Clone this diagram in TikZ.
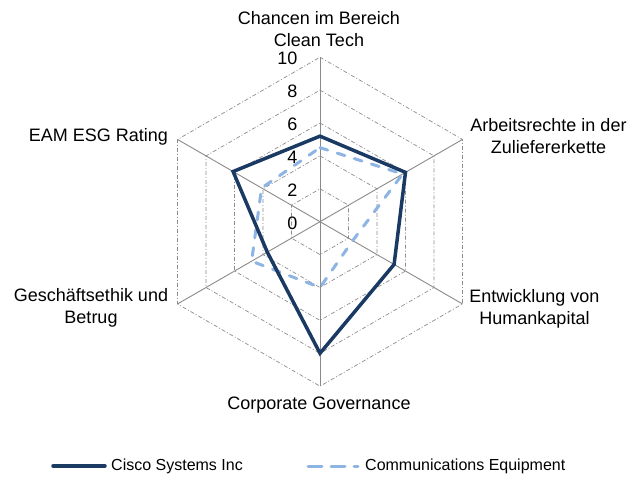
\documentclass[tikz,border=0pt]{standalone}
\usepackage{fontspec}
\setmainfont{Liberation Sans}
\definecolor{ciscoblue}{HTML}{1B3A63}
\definecolor{commblue}{HTML}{8EB4E3}
\definecolor{axisgray}{HTML}{8A8A8A}
\definecolor{gridgray}{HTML}{8C8C8C}
\begin{document}
\begin{tikzpicture}[x=1pt,y=1pt,
  axisline/.style={draw=axisgray, line width=0.9pt},
  gridline/.style={draw=gridgray, line width=0.7pt, dash pattern=on 4pt off 2pt on 1pt off 2pt},
  ciscoline/.style={draw=ciscoblue, line width=3.5pt, line join=miter},
  commline/.style={draw=commblue, line width=3pt, dash pattern=on 8pt off 10pt, line cap=round, line join=round},
  lab/.style={font=\fontsize{18}{21.7}\selectfont, align=center, inner sep=0pt},
  ticklab/.style={font=\fontsize{18}{21}\selectfont, anchor=east, inner sep=0pt},
  leg/.style={font=\fontsize{16}{19}\selectfont, anchor=west, inner sep=0pt}]
\useasboundingbox (0,0) rectangle (640,477);
\def\R{16.45}
\coordinate (O) at (320,255.3);
\begin{scope}[shift={(O)}]
  % grid hexagons
  \foreach \k in {2,4,6,8,10}{
    \draw[gridline] (90:{\k*\R}) -- (30:{\k*\R}) -- (-30:{\k*\R}) -- (-90:{\k*\R}) -- (-150:{\k*\R}) -- (150:{\k*\R}) -- cycle;
  }
  % axis vertices
  \coordinate (v1) at (90:{10*\R});
  \coordinate (v2) at (30:{10*\R});
  \coordinate (v3) at (-30:{10*\R});
  \coordinate (v4) at (-90:{10*\R});
  \coordinate (v5) at (-150:{10*\R});
  \coordinate (v6) at (150:{10*\R});
  \foreach \v in {v1,v2,v3,v4,v5,v6}{
    \draw[axisline] (O) -- (\v);
  }
  % tick labels
  \foreach \k in {0,2,4,6,8,10}{
    \node[ticklab] (t\k) at (-22.5,{\k*\R-1.5}) {\k};
  }
  % data points
  \coordinate (c1) at (90:{5.2*\R});
  \coordinate (c2) at (30:{6.0*\R});
  \coordinate (c3) at (-30:{5.2*\R});
  \coordinate (c4) at (-90:{8.0*\R});
  \coordinate (c5) at (-150:{3.7*\R});
  \coordinate (c6) at (150:{6.1*\R});
  \coordinate (e1) at (90:{4.5*\R});
  \coordinate (e2) at (30:{5.8*\R});
  \coordinate (e3) at (-30:{2.3*\R});
  \coordinate (e4) at (-90:{4.0*\R});
  \coordinate (e5) at (-150:{4.8*\R});
  \coordinate (e6) at (150:{4.1*\R});
\end{scope}
\draw[commline] (e1) -- (e2) -- (e3) -- (e4) -- (e5) -- (e6) -- cycle;
\draw[ciscoline] (c1) -- (c2) -- (c3) -- (c4) -- (c5) -- (c6) -- cycle;
% axis labels
\node[lab] (a1) at (319,448) {Chancen im Bereich\\Clean Tech};
\node[lab] (a2) at (548.5,341) {Arbeitsrechte in der\\Zuliefererkette};
\node[lab] (a3) at (534.5,168) {Entwicklung von\\Humankapital};
\node[lab] (a4) at (319,72) {Corporate Governance};
\node[lab] (a5) at (91,169) {Geschäftsethik und\\Betrug};
\node[lab] (a6) at (98.5,340) {EAM ESG Rating};
% legend
\coordinate (l1a) at (53,11);
\coordinate (l1b) at (105,11);
\draw[ciscoline, line cap=round] (l1a) -- (l1b);
\node[leg] (l1t) at (111,11) {Cisco Systems Inc};
\coordinate (l2a) at (308,11);
\coordinate (l2b) at (358,11);
\draw[commline, dash pattern=on 14pt off 9pt] (l2a) -- (l2b);
\node[leg] (l2t) at (365,11) {Communications Equipment};
\end{tikzpicture}
\end{document}
